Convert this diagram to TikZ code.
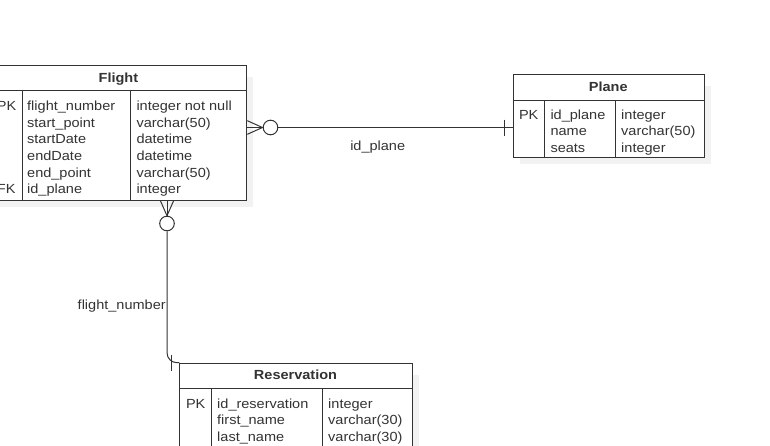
\documentclass[tikz,border=0pt]{standalone}
\usepackage{fontspec}
\setmainfont{Liberation Sans}[FakeStretch=1.1]
\usetikzlibrary{calc}
\definecolor{ink}{HTML}{333333}
\newcommand{\rowFont}{\fontsize{13.2}{16}\selectfont}
\newcommand{\headFont}{\fontsize{13.2}{16}\selectfont\bfseries}

\begin{document}
\begin{tikzpicture}[x=1pt, y=-1pt, line width=1pt, color=ink,
    erbox/.style={draw, fill=white, anchor=north west, inner sep=0pt},
    ershadow/.style={fill=black!5, draw=none},
    ercell/.style={anchor=base west, inner sep=0pt, font=\rowFont},
    erhead/.style={anchor=base, inner sep=0pt, font=\headFont},
    ring/.style={circle, draw, fill=white, inner sep=0pt, minimum size=14.6pt},
    rel/.style={anchor=base, inner sep=0pt, font=\rowFont}]
  \useasboundingbox (0, 0) rectangle (770, 445);
  \clip (0, 0) rectangle (770, 445);
  %
  \newcommand{\rowStep}{16.6}
  \newcommand{\barHalf}{8}
  %
  % Flight
  \fill[ershadow] (-2.5, 77) rectangle (253.3, 207);
  \node[erbox, minimum width=255.8pt, minimum height=135pt] at (-9.5, 65) (flight) {};
  \draw (-9.5, 90.3) -- (246.3, 90.3);
  \draw (22.6, 90.3) -- (22.6, 200);
  \draw (130.7, 90.3) -- (130.7, 200);
  \node[erhead] at (118.4, 82) (flight head) {Flight};
  \foreach \colKey/\colName/\colType [count=\i from 0] in {PK/flight\_number/integer not null,
      {}/start\_point/varchar(50), {}/startDate/datetime, {}/endDate/datetime,
      {}/end\_point/varchar(50), FK/id\_plane/integer} {
    \pgfmathsetmacro{\rowY}{110.6 + \rowStep * \i}
    \node[ercell] at (-3.5, \rowY) (flight key \i) {\colKey};
    \node[ercell] at (26.7, \rowY) (flight name \i) {\colName};
    \node[ercell] at (136, \rowY) (flight type \i) {\colType};
  }
  %
  % Plane
  \fill[ershadow] (519.5, 86) rectangle (711, 164.3);
  \node[erbox, minimum width=191.5pt, minimum height=83.3pt] at (512.5, 74) (plane) {};
  \draw (512.5, 100) -- (704, 100);
  \draw (544.3, 100) -- (544.3, 157.3);
  \draw (615, 100) -- (615, 157.3);
  \node[erhead] at (608.2, 91.2) (plane head) {Plane};
  \foreach \colKey/\colName/\colType [count=\i from 0] in {PK/id\_plane/integer,
      {}/name/varchar(50), {}/seats/integer} {
    \pgfmathsetmacro{\rowY}{119.3 + \rowStep * \i}
    \node[ercell] at (518.5, \rowY) (plane key \i) {\colKey};
    \node[ercell] at (550, \rowY) (plane name \i) {\colName};
    \node[ercell] at (620.7, \rowY) (plane type \i) {\colType};
  }
  %
  % Reservation
  \fill[ershadow] (186.3, 374.7) rectangle (418.7, 452.6);
  \node[erbox, minimum width=232.4pt, minimum height=83.3pt] at (179.3, 362.7) (reservation) {};
  \draw (179.3, 388.3) -- (411.7, 388.3);
  \draw (211.7, 388.3) -- (211.7, 446);
  \draw (322.3, 388.3) -- (322.3, 446);
  \node[erhead] at (295.5, 379.5) (reservation head) {Reservation};
  \foreach \colKey/\colName/\colType [count=\i from 0] in {PK/id\_reservation/integer,
      {}/first\_name/varchar(30), {}/last\_name/varchar(30)} {
    \pgfmathsetmacro{\rowY}{408.2 + \rowStep * \i}
    \node[ercell] at (185.5, \rowY) (reservation key \i) {\colKey};
    \node[ercell] at (216.7, \rowY) (reservation name \i) {\colName};
    \node[ercell] at (327.7, \rowY) (reservation type \i) {\colType};
  }
  %
  % Flight -- Plane
  \node[ring] at (270.5, 127.5) (plane ring) {};
  \coordinate (plane foot) at (262.5, 127.5);
  \draw ($(flight.east |- plane ring) + (0, -6.8)$) -- (plane foot)
    -- ($(flight.east |- plane ring) + (0, 6.8)$);
  \draw (flight.east |- plane ring) -- (plane ring.west);
  \draw (plane ring.east) -- (plane.west |- plane ring);
  \draw ($(plane.west |- plane ring) + (-8, -\barHalf)$) -- ++(0, 16);
  \node[rel] at (377.7, 150) (plane label) {id\_plane};
  %
  % Flight -- Reservation
  \node[ring] at (167, 223.5) (reservation ring) {};
  \coordinate (reservation foot) at (167, 215.7);
  \draw ($(flight.south -| reservation ring) + (-6.5, 0)$) -- (reservation foot)
    -- ($(flight.south -| reservation ring) + (6.5, 0)$);
  \draw (flight.south -| reservation ring) -- (reservation ring.north);
  \draw[rounded corners=10pt] (reservation ring.south) |- (reservation.north west);
  \draw ($(reservation.north west) + (-8, -\barHalf)$) -- ++(0, 16);
  \node[ercell, anchor=base east] at (166.2, 309.5) (reservation label) {flight\_number};
  %
\end{tikzpicture}
\end{document}
